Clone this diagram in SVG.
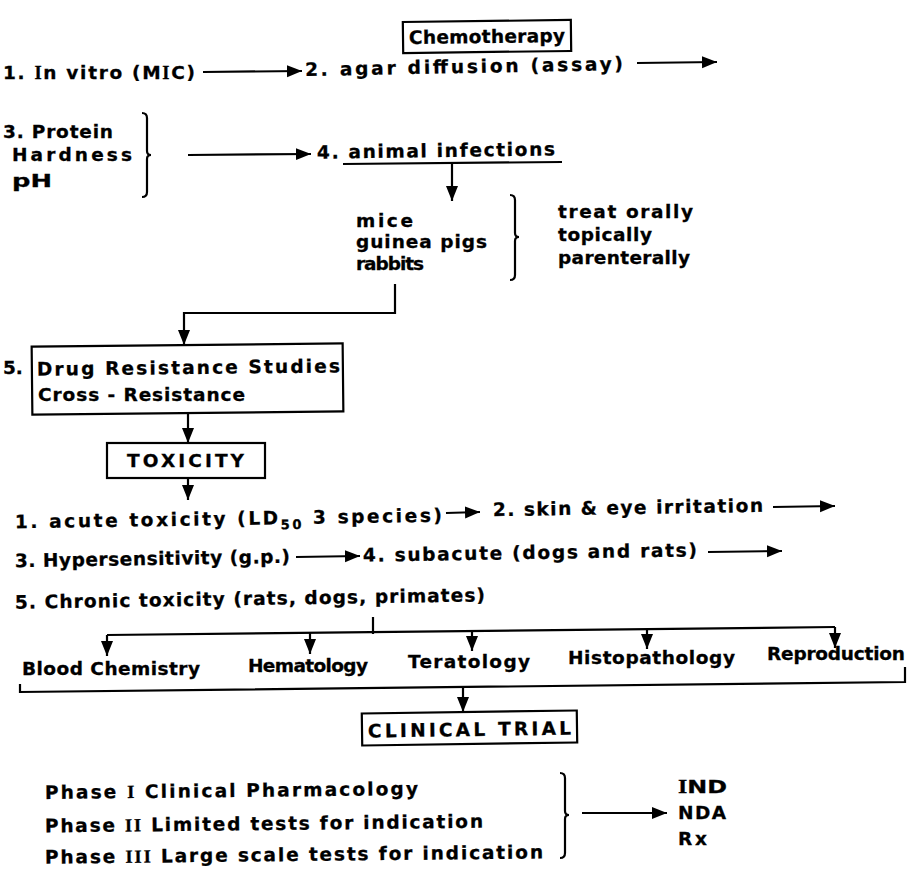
<svg xmlns="http://www.w3.org/2000/svg" width="913" height="873" viewBox="0 0 913 873">
<style>
.t{font-family:"DejaVu Sans","Liberation Sans",sans-serif;font-weight:bold;font-size:18.5px;fill:#000;stroke:#000;stroke-width:0.3}
.s{font-family:"Liberation Serif",serif;font-weight:bold}
.sub{font-size:13px}
.ln{stroke:#000;stroke-width:2.2;fill:none}
.a{stroke:#000;stroke-width:2.2;fill:none;marker-end:url(#ah)}
.box{fill:#fff;stroke:#000;stroke-width:2.2}
</style>
<defs>
<marker id="ah" markerUnits="userSpaceOnUse" markerWidth="17" markerHeight="13" refX="15" refY="6" orient="auto">
<path d="M0,0 L15,6 L0,12 z" fill="#000"/>
</marker>
</defs>
<rect width="913" height="873" fill="#fff"/>

<g id="connectors">
<line class="a" x1="203" y1="72" x2="302" y2="71"/>
<line class="a" x1="637" y1="63" x2="717" y2="62"/>
<line class="a" x1="188" y1="155" x2="311" y2="154"/>
<line class="ln" x1="343" y1="164" x2="562" y2="162"/>
<line class="a" x1="452" y1="163" x2="452" y2="201"/>
<path class="a" d="M395,284 V313 H184 V345"/>
<line class="a" x1="188" y1="413" x2="188" y2="443"/>
<line class="a" x1="188" y1="478" x2="188" y2="500"/>
<line class="a" x1="446" y1="513" x2="480" y2="512"/>
<line class="a" x1="773" y1="507" x2="835" y2="506"/>
<line class="a" x1="296" y1="557" x2="360" y2="556"/>
<line class="a" x1="708" y1="552" x2="782" y2="551"/>
<line class="ln" x1="373" y1="617" x2="373" y2="634"/>
<line class="ln" x1="107" y1="635" x2="835" y2="627"/>
<line class="a" x1="107" y1="635" x2="107" y2="656"/>
<line class="a" x1="310" y1="633" x2="310" y2="654"/>
<line class="a" x1="472" y1="631" x2="472" y2="651"/>
<line class="a" x1="647" y1="629" x2="647" y2="649"/>
<line class="a" x1="835" y1="627" x2="835" y2="648"/>
<path class="ln" d="M20,684 V692 L905,682 V667"/>
<line class="a" x1="463" y1="687" x2="463" y2="712"/>
<line class="a" x1="582" y1="813" x2="667" y2="813"/>
<path class="ln" d="M142,113 Q147,113 147,118 V151 Q147,155 151,155 Q147,155 147,159 V192 Q147,197 142,197"/>
<path class="ln" d="M510,195 Q515,195 515,200 V233 Q515,237 519,237 Q515,237 515,241 V275 Q515,280 510,280"/>
<path class="ln" d="M560,773 Q565,773 565,778 V811 Q565,815 569,815 Q565,815 565,819 V853 Q565,858 560,858"/>
</g>

<g id="chemotherapy" transform="rotate(-0.7 487 36)">
<rect class="box" x="403" y="21" width="168" height="31"/>
<text class="t" x="409" y="43" textLength="156" lengthAdjust="spacing">Chemotherapy</text>
</g>
<g id="in-vitro">
<text class="t" x="3" y="79" textLength="192" lengthAdjust="spacing">1. <tspan class="s">I</tspan>n vitro (M<tspan class="s">I</tspan>C)</text>
</g>
<g id="agar">
<text class="t" x="305" y="73" textLength="318" lengthAdjust="spacing" transform="rotate(-1.1 464 67)">2. agar diffusion (assay)</text>
</g>
<g id="protein">
<text class="t" x="3" y="138" textLength="110" lengthAdjust="spacing">3. Protein</text>
<text class="t" x="12" y="161" textLength="120" lengthAdjust="spacing">Hardness</text>
<text class="t" x="12" y="187" textLength="40" lengthAdjust="spacingAndGlyphs">pH</text>
</g>
<g id="animal">
<text class="t" x="317" y="157" textLength="238" lengthAdjust="spacing" transform="rotate(-0.8 436 151)">4. animal infections</text>
</g>
<g id="species">
<text class="t" x="356" y="227" textLength="57" lengthAdjust="spacing">mice</text>
<text class="t" x="356" y="248" textLength="131" lengthAdjust="spacing">guinea pigs</text>
<text class="t" x="356" y="270" textLength="68" lengthAdjust="spacing">rabbits</text>
</g>
<g id="treat">
<text class="t" x="558" y="218" textLength="135" lengthAdjust="spacing">treat orally</text>
<text class="t" x="558" y="241" textLength="94" lengthAdjust="spacing">topically</text>
<text class="t" x="558" y="264" textLength="132" lengthAdjust="spacing">parenterally</text>
</g>
<g id="drug-resistance">
<rect class="box" x="32" y="345" width="311" height="68" transform="rotate(-0.6 187 379)"/>
<text class="t" x="3" y="374">5.</text>
<text class="t" x="37" y="374" textLength="303" lengthAdjust="spacing" transform="rotate(-0.6 188 368)">Drug Resistance Studies</text>
<text class="t" x="38" y="401" textLength="207" lengthAdjust="spacing">Cross - Resistance</text>
</g>
<g id="toxicity">
<rect class="box" x="107" y="443" width="158" height="35"/>
<text class="t" x="127" y="467" textLength="117" lengthAdjust="spacing">TOXICITY</text>
</g>
<g id="acute">
<text class="t" x="15" y="525" textLength="427" lengthAdjust="spacing" transform="rotate(-0.9 228 519)">1. acute toxicity (LD<tspan class="sub" dy="5">50</tspan><tspan dy="-5"> 3 species)</tspan></text>
</g>
<g id="skin">
<text class="t" x="493" y="514" textLength="270" lengthAdjust="spacing" transform="rotate(-0.9 628 508)">2. skin &amp; eye irritation</text>
</g>
<g id="hypersensitivity">
<text class="t" x="15" y="565" textLength="275" lengthAdjust="spacing" transform="rotate(-0.9 152 559)">3. Hypersensitivity (g.p.)</text>
</g>
<g id="subacute">
<text class="t" x="363" y="559" textLength="334" lengthAdjust="spacing" transform="rotate(-0.9 530 553)">4. subacute (dogs and rats)</text>
</g>
<g id="chronic">
<text class="t" x="15" y="605" textLength="470" lengthAdjust="spacing" transform="rotate(-0.9 250 599)">5. Chronic toxicity (rats, dogs, primates)</text>
</g>
<g id="blood-chemistry"><text class="t" x="22" y="675" textLength="178" lengthAdjust="spacing">Blood Chemistry</text></g>
<g id="hematology"><text class="t" x="248" y="672" textLength="120" lengthAdjust="spacing">Hematology</text></g>
<g id="teratology"><text class="t" x="408" y="668" textLength="122" lengthAdjust="spacing">Teratology</text></g>
<g id="histopathology"><text class="t" x="568" y="664" textLength="167" lengthAdjust="spacing">Histopathology</text></g>
<g id="reproduction"><text class="t" x="767" y="660" textLength="138" lengthAdjust="spacing">Reproduction</text></g>
<g id="clinical-trial" transform="rotate(-0.8 469 728)">
<rect class="box" x="362" y="712" width="215" height="32"/>
<text class="t" x="368" y="736" textLength="203" lengthAdjust="spacing">CLINICAL TRIAL</text>
</g>
<g id="phases">
<text class="t" x="45" y="797" textLength="373" lengthAdjust="spacing" transform="rotate(-0.6 231 791)">Phase <tspan class="s">I</tspan> Clinical Pharmacology</text>
<text class="t" x="45" y="830" textLength="438" lengthAdjust="spacing" transform="rotate(-0.6 264 824)">Phase <tspan class="s">II</tspan> Limited tests for indication</text>
<text class="t" x="45" y="861" textLength="498" lengthAdjust="spacing" transform="rotate(-0.6 294 855)">Phase <tspan class="s">III</tspan> Large scale tests for indication</text>
</g>
<g id="outcomes">
<text class="t" x="678" y="793" textLength="49" lengthAdjust="spacingAndGlyphs"><tspan class="s">I</tspan>ND</text>
<text class="t" x="678" y="819" textLength="48" lengthAdjust="spacing">NDA</text>
<text class="t" x="678" y="845" textLength="29" lengthAdjust="spacing">Rx</text>
</g>
</svg>
